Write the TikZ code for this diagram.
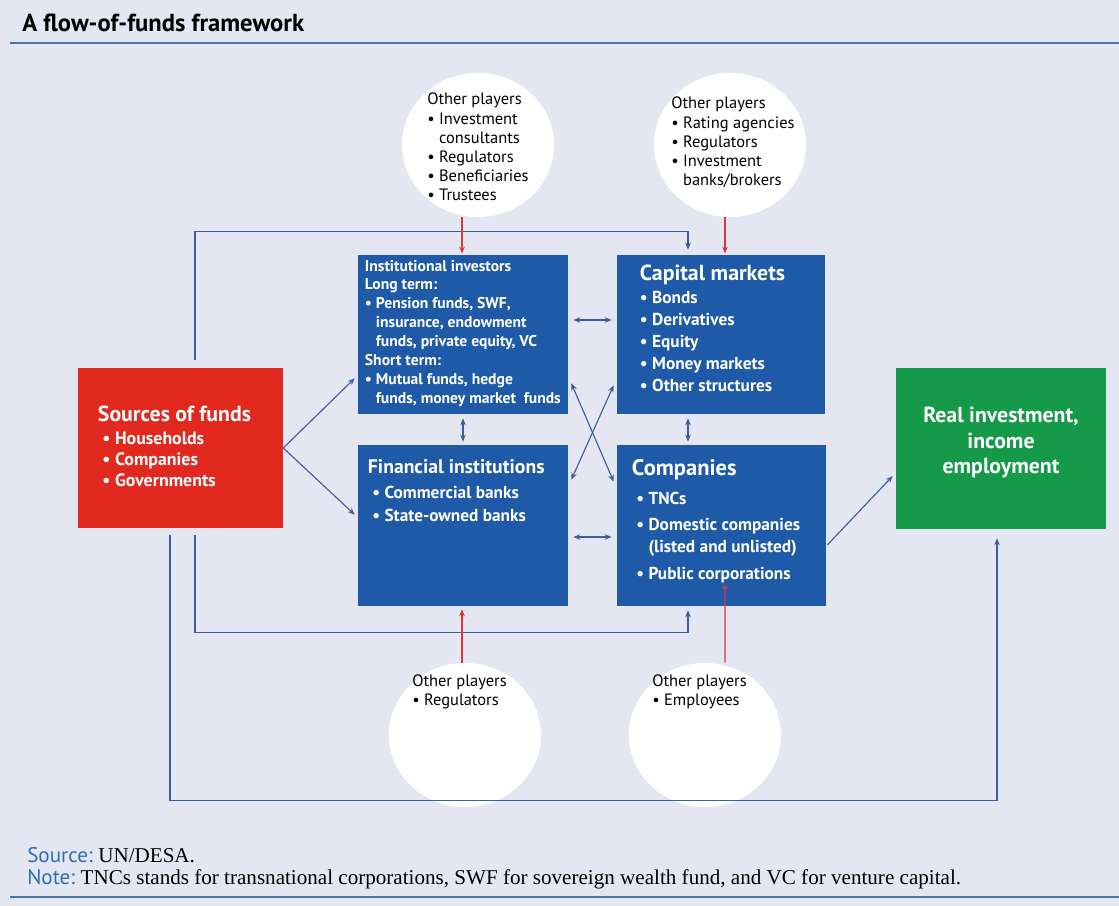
\documentclass[tikz,border=0pt]{standalone}
\usepackage{fontspec}
\setmainfont{PT Sans}
\newfontfamily\notefont{Liberation Serif}
\usetikzlibrary{arrows.meta,shapes.geometric}

\definecolor{bgpanel}{HTML}{E4E6F2}
\definecolor{boxblue}{HTML}{1F5AA8}
\definecolor{boxred}{HTML}{E2291F}
\definecolor{boxgreen}{HTML}{149A48}
\definecolor{flowblue}{HTML}{3D5E9C}
\definecolor{flowred}{HTML}{D9363E}
\definecolor{rulecol}{HTML}{4F73A8}
\definecolor{srccol}{HTML}{2F6DB5}

\newcommand{\bul}{\textbullet\ }
\newcommand{\ind}{\phantom{\textbullet\ }}

\tikzset{
  box/.style = {draw=none, inner sep=0pt, minimum width=5.25cm},
  boxtext/.style = {text=white, align=left, inner sep=0pt, anchor=north west},
  player/.style = {ellipse, fill=white, minimum width=3.8cm, minimum height=3.6cm, inner sep=0pt},
  playertext/.style = {align=left, inner sep=0pt, anchor=north west, font=\fontsize{11.7}{13.6}\selectfont},
  flow/.style = {draw=flowblue, line width=0.8pt, -{Stealth[length=5pt,width=4pt]}},
  both/.style = {flow, {Stealth[length=5pt,width=4pt]}-{Stealth[length=5pt,width=4pt]}},
  push/.style = {draw=flowred, line width=0.8pt, -{Stealth[length=5pt,width=4pt]}}
}

\begin{document}
\begin{tikzpicture}[x=0.025cm, y=-0.025cm]
\fill[bgpanel] (0,0) rectangle (1119,906);
\useasboundingbox (0,0) rectangle (1119,906);

% title and rules
\node[anchor=base west, inner sep=0pt, font=\bfseries\fontsize{17.5}{20}\selectfont] (title) at (22,32) {A flow-of-funds framework};
\draw[rulecol, line width=1pt] (10,43) -- (1119,43);
\draw[rulecol, line width=1pt] (10,897) -- (1119,897);

% boxes
\node[box, fill=boxred, minimum width=5.125cm, minimum height=4cm] (src) at (180.5,448) {};
\node[box, fill=boxblue, minimum height=3.975cm] (inv) at (463,334.5) {};
\node[box, fill=boxblue, minimum width=5.2cm, minimum height=3.975cm] (cm) at (721,334.5) {};
\node[box, fill=boxblue, minimum height=4.025cm] (fi) at (463,525.5) {};
\node[box, fill=boxblue, minimum width=5.225cm, minimum height=4.025cm] (co) at (721.5,525.5) {};
\node[box, fill=boxgreen, minimum height=4.025cm] (ri) at (1001,448.5) {};

% box texts
\node[boxtext, font=\bfseries\fontsize{15.5}{15}\selectfont] (src-txt) at ([shift={(20,38)}]src.north west)
  {Sources of funds\\[1.5pt]
   {\fontsize{12.7}{15}\selectfont\ \bul Households}\\
   {\fontsize{12.7}{15}\selectfont\ \bul Companies}\\
   {\fontsize{12.7}{15}\selectfont\ \bul Governments}};
\node[boxtext, font=\bfseries\fontsize{11.1}{13.45}\selectfont] (inv-txt) at ([shift={(7,5)}]inv.north west)
  {Institutional investors\\ Long term:\\ \bul Pension funds, SWF,\\ \ind insurance, endowment\\
   \ind funds, private equity, VC\\ Short term:\\ \bul Mutual funds, hedge\\ \ind funds, money market\ \ funds};
\node[boxtext, font=\bfseries\fontsize{15.5}{15.6}\selectfont] (cm-txt) at ([shift={(23,10)}]cm.north west)
  {Capital markets\\[1pt]
   {\fontsize{12.3}{15.6}\selectfont\bul Bonds}\\
   {\fontsize{12.3}{15.6}\selectfont\bul Derivatives}\\
   {\fontsize{12.3}{15.6}\selectfont\bul Equity}\\
   {\fontsize{12.3}{15.6}\selectfont\bul Money markets}\\
   {\fontsize{12.3}{15.6}\selectfont\bul Other structures}};
\node[boxtext, font=\bfseries\fontsize{14}{16}\selectfont] (fi-txt) at ([shift={(10,15)}]fi.north west)
  {Financial institutions\\[1.5pt]
   {\fontsize{12.3}{15.6}\selectfont\ \bul Commercial banks}\\
   {\fontsize{12.3}{15.6}\selectfont\ \bul State-owned banks}};
\node[boxtext, font=\bfseries\fontsize{16}{15.6}\selectfont] (co-txt) at ([shift={(15,14)}]co.north west)
  {Companies\\[5pt]
   {\fontsize{12.3}{15.6}\selectfont\ \bul TNCs}\\[3.5pt]
   {\fontsize{12.3}{15.6}\selectfont\ \bul Domestic companies}\\
   {\fontsize{12.3}{15.6}\selectfont\ \ind (listed and unlisted)}\\[3.5pt]
   {\fontsize{12.3}{15.6}\selectfont\ \bul Public corporations}};
\node[text=white, align=center, inner sep=0pt, font=\bfseries\fontsize{15.5}{18}\selectfont] (ri-txt) at ([shift={(0,-6)}]ri.center)
  {Real investment,\\ income\\ employment};

% other players
\node[player] (pl1) at (478,145) {};
\node[player] (pl2) at (730,145) {};
\node[player] (pl3) at (465,735) {};
\node[player] (pl4) at (705,735) {};
\node[playertext] (pl1-txt) at (427,93)
  {Other players\\ \bul Investment\\ \ind consultants\\ \bul Regulators\\ \bul Beneficiaries\\ \bul Trustees};
\node[playertext] (pl2-txt) at (671,97)
  {Other players\\ \bul Rating agencies\\ \bul Regulators\\ \bul Investment\\ \ind banks/brokers};
\node[playertext] (pl3-txt) at (412,674) {Other players\\ \bul Regulators};
\node[playertext] (pl4-txt) at (652,674) {Other players\\ \bul Employees};

% flows
\draw[flow] (src.east) -- ([shift={(-3,-36)}]inv.south west);
\draw[flow] (src.east) -- ([shift={(-3,70)}]fi.north west);
\draw[both] ([shift={(5,-14.5)}]inv.east) -- ([shift={(-5,-14.5)}]cm.west);
\draw[both] ([shift={(5,11.5)}]fi.east) -- ([shift={(-5,11.5)}]co.west);
\draw[both] ([shift={(0,4)}]inv.south) -- ([shift={(0,-3)}]fi.north);
\draw[both] ([shift={(-33,4)}]cm.south) -- ([shift={(-33.5,-3)}]co.north);
\draw[both] ([shift={(3,-31)}]inv.south east) -- ([shift={(-3,37)}]co.north west);
\draw[both] ([shift={(3,35)}]fi.north east) -- ([shift={(-3,-29)}]cm.south west);
\draw[flow] ([shift={(1,19.5)}]co.east) -- ([shift={(-3,27.5)}]ri.west);
\draw[flow] ([shift={(14.5,-8)}]src.north) |- ([shift={(-33,-23)}]cm.north) -- ([shift={(-33,-5)}]cm.north);
\draw[flow] ([shift={(14.5,7)}]src.south) |- ([shift={(-33.5,26)}]co.south) -- ([shift={(-33.5,4)}]co.south);
\draw[flow] ([shift={(-10.5,7)}]src.south) |- ([shift={(-4,271)}]ri.south) -- ([shift={(-4,9)}]ri.south);

% pushes from other players
\draw[push] ([shift={(-16,0)}]pl1.south) -- ([shift={(-1,-1)}]inv.north);
\draw[push] ([shift={(-5,0)}]pl2.south) -- ([shift={(4,-1)}]cm.north);
\draw[push] ([shift={(-3,0)}]pl3.north) -- ([shift={(-1,3)}]fi.south);
\draw[draw=flowred, line width=0.8pt, -{Circle[length=3.5pt]}] ([shift={(20,0)}]pl4.north) -- ([shift={(3.5,-21)}]co.south);

% footer
\node[anchor=base west, inner sep=0pt, font=\fontsize{15}{18}\selectfont] (source) at (27,862)
  {\textcolor{srccol}{Source:}\ {\notefont UN/DESA.}};
\node[anchor=base west, inner sep=0pt, font=\fontsize{15}{18}\selectfont] (note) at (27,884)
  {\textcolor{srccol}{Note:}\ {\notefont TNCs stands for transnational corporations, SWF for sovereign wealth fund, and VC for venture capital.}};
\end{tikzpicture}
\end{document}
